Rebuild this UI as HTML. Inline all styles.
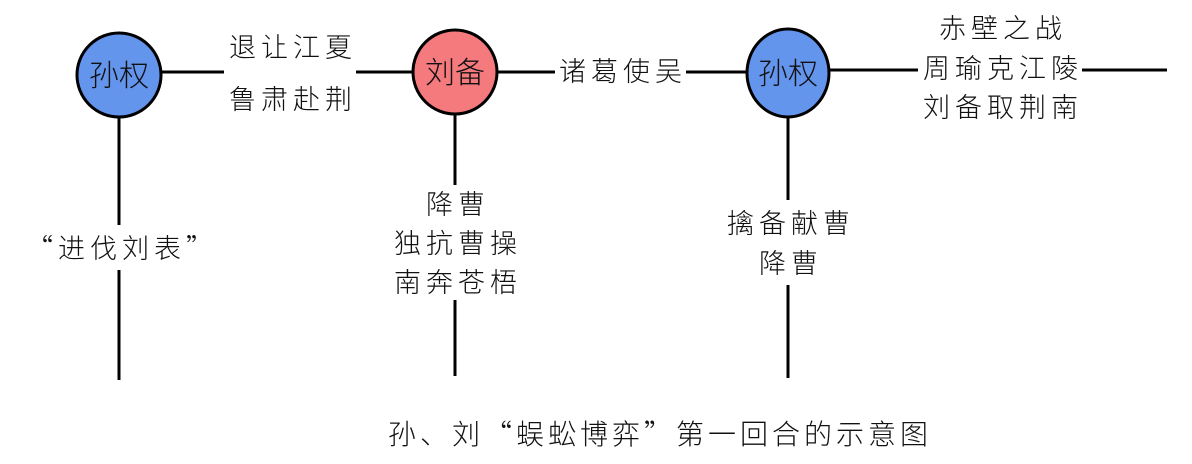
<!DOCTYPE html>
<html><head><meta charset="utf-8"><style>
body{margin:0;background:#fff;}
svg text{font-family:"Noto Sans CJK SC","WenQuanYi Zen Hei",sans-serif;fill:#111;font-weight:300;}
</style></head><body>
<svg width="1192" height="459" viewBox="0 0 1192 459" xmlns="http://www.w3.org/2000/svg">
<g stroke="#000" stroke-width="3">
<line x1="161" y1="72" x2="224" y2="72"/>
<line x1="356" y1="72" x2="413" y2="72"/>
<line x1="497" y1="72" x2="555" y2="72"/>
<line x1="686" y1="72" x2="747" y2="72"/>
<line x1="830" y1="70" x2="918" y2="70"/>
<line x1="1082" y1="70" x2="1167" y2="70"/>
<line x1="119" y1="117" x2="119" y2="225"/>
<line x1="119" y1="270" x2="119" y2="380"/>
<line x1="455" y1="114" x2="455" y2="185"/>
<line x1="455" y1="300" x2="455" y2="376"/>
<line x1="788" y1="117" x2="788" y2="200"/>
<line x1="788" y1="285" x2="788" y2="378"/>
<circle cx="119" cy="75" r="42" fill="#6495ED"/>
<circle cx="455" cy="72" r="42" fill="#F47A7E"/>
<ellipse cx="788" cy="73" rx="41" ry="44" fill="#6495ED"/>
</g>
<g font-size="30" text-anchor="middle">
<text x="119" y="86">孙权</text>
<text x="455" y="83">刘备</text>
<text x="788" y="84">孙权</text>
</g>
<g font-size="27" text-anchor="middle" letter-spacing="5">
<text x="293" y="57">退让江夏</text>
<text x="293" y="109">鲁肃赴荆</text>
<text x="623" y="81">诸葛使吴</text>
<text x="1003" y="38">赤壁之战</text>
<text x="1003" y="78">周瑜克江陵</text>
<text x="1003" y="117">刘备取荆南</text>
<text x="122" y="258">“进伐刘表”</text>
<text x="458" y="214">降曹</text>
<text x="458" y="253">独抗曹操</text>
<text x="458" y="292">南奔苍梧</text>
<text x="791" y="233">擒备献曹</text>
<text x="791" y="273">降曹</text>
<text x="660" y="444" font-size="28" letter-spacing="4">孙、刘“蜈蚣博弈”第一回合的示意图</text>
</g>
</svg>
</body></html>
